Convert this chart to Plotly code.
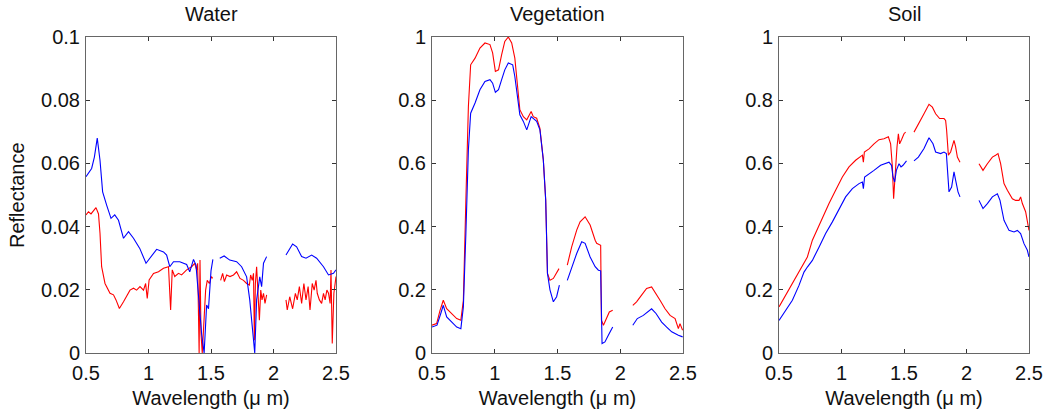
import plotly.graph_objects as go
from plotly.subplots import make_subplots

# ---------------- Data (wavelength in µm, reflectance) ----------------
water_blue_wl = [0.5, 0.545, 0.567, 0.59, 0.612, 0.633, 0.665, 0.70, 0.73, 0.76, 0.80, 0.84, 0.88, 0.93, 0.98,
                 1.01, 1.065, 1.12, 1.145, 1.17, 1.2, 1.25, 1.305, 1.33, 1.36, 1.38, 1.40, 1.425, 1.445, 1.465,
                 1.48, 1.50, 1.515, None,
                 1.57, 1.605, 1.65, 1.705, 1.745, 1.785, 1.81, 1.835, 1.85, 1.865, 1.89, 1.905, 1.92, 1.945, None,
                 2.1, 2.153, 2.185, 2.225, 2.26, 2.305, 2.345, 2.4, 2.44, 2.48, 2.5]
water_blue = [0.0558, 0.0584, 0.062, 0.068, 0.061, 0.051, 0.0468, 0.0426, 0.0437, 0.042, 0.0363, 0.0384, 0.0363,
              0.0331, 0.0284, 0.030, 0.0328, 0.032, 0.031, 0.0273, 0.0289, 0.0289, 0.028, 0.0257, 0.0296, 0.0278,
              0.019, 0.006, 0.0, 0.0152, 0.014, 0.026, 0.0296, None,
              0.030, 0.0307, 0.0294, 0.0289, 0.0273, 0.0241, 0.0168, 0.0062, 0.0, 0.0168, 0.0241, 0.021, 0.0284,
              0.0305, None,
              0.031, 0.0345, 0.0336, 0.0305, 0.030, 0.031, 0.030, 0.0273, 0.0247, 0.0252, 0.0263]

water_red_wl = [0.5, 0.52, 0.54, 0.58, 0.6, 0.612, 0.625, 0.652, 0.692, 0.72, 0.74, 0.767, 0.80, 0.825, 0.852,
                0.88, 0.905, 0.932, 0.96, 0.977, 0.99, 1.005, 1.04, 1.08, 1.12, 1.16, 1.167, 1.177, 1.19, 1.21,
                1.24, 1.265, 1.305, 1.345, 1.37, 1.385, 1.393, 1.405, 1.412, 1.42, 1.43, 1.445, 1.457, 1.47,
                1.487, 1.503, 1.513, None,
                1.577, 1.593, 1.607, 1.625, 1.652, 1.68, 1.705, 1.732, 1.76, 1.785, 1.807, 1.817, 1.83, 1.84,
                1.847, 1.855, 1.865, 1.88, 1.887, 1.898, 1.908, 1.92, 1.932, 1.945, None,
                2.1, 2.11, 2.13, 2.153, 2.175, 2.19, 2.207, 2.225, 2.243, 2.26, 2.277, 2.292, 2.31, 2.325, 2.34,
                2.35, 2.367, 2.385, 2.4, 2.413, 2.427, 2.44, 2.453, 2.46, 2.47, 2.483, 2.5]
water_red = [0.0437, 0.0447, 0.044, 0.046, 0.044, 0.0379, 0.0273, 0.022, 0.0189, 0.0184, 0.0168, 0.0141, 0.0162,
             0.0178, 0.0199, 0.0205, 0.0199, 0.021, 0.0199, 0.022, 0.0173, 0.0231, 0.0252, 0.0257, 0.0268, 0.0273,
             0.021, 0.0136, 0.0263, 0.0242, 0.0252, 0.0247, 0.0263, 0.0273, 0.0284, 0.0263, 0.0284, 0.0, 0.0294,
             0.0062, 0.0, 0.0104, 0.0199, 0.023, 0.022, 0.0242, 0.0236, None,
             0.023, 0.0252, 0.0226, 0.0247, 0.0242, 0.0247, 0.0257, 0.0236, 0.023, 0.022, 0.0215, 0.0247, 0.023,
             0.0252, 0.004, 0.022, 0.0273, 0.0168, 0.0104, 0.0199, 0.0168, 0.0189, 0.0157, 0.0184, None,
             0.0168, 0.0136, 0.0178, 0.014, 0.0189, 0.0168, 0.021, 0.0157, 0.022, 0.0168, 0.021, 0.0136, 0.022,
             0.0199, 0.023, 0.0189, 0.0168, 0.0157, 0.0189, 0.0168, 0.0199, 0.0189, 0.0157, 0.0263, 0.003, 0.0189,
             0.0242]

veg_red_wl = [0.5, 0.537, 0.564, 0.59, 0.617, 0.657, 0.697, 0.73, 0.75, 0.77, 0.79, 0.808, 0.843, 0.882, 0.922,
              0.962, 0.983, 1.005, 1.03, 1.055, 1.08, 1.108, 1.135, 1.16, 1.18, 1.2, 1.228, 1.255, 1.29, 1.307,
              1.334, 1.36, 1.387, 1.406, 1.42, 1.44, 1.467, 1.493, 1.512, None,
              1.578, 1.613, 1.653, 1.68, 1.72, 1.76, 1.8, 1.812, 1.844, 1.85, 1.866, 1.892, 1.913, 1.94, None,
              2.1, 2.13, 2.17, 2.21, 2.25, 2.277, 2.317, 2.357, 2.397, 2.437, 2.463, 2.476, 2.497]
veg_red = [0.088, 0.093, 0.135, 0.167, 0.14, 0.125, 0.109, 0.104, 0.167, 0.484, 0.78, 0.912, 0.933, 0.965, 0.981,
           0.976, 0.95, 0.891, 0.896, 0.944, 0.986, 1.0, 0.981, 0.933, 0.854, 0.77, 0.748, 0.738, 0.764, 0.748,
           0.743, 0.711, 0.611, 0.484, 0.252, 0.23, 0.236, 0.252, 0.267, None,
           0.278, 0.336, 0.389, 0.415, 0.431, 0.405, 0.357, 0.347, 0.341, 0.104, 0.088, 0.109, 0.13, 0.135, None,
           0.151, 0.162, 0.183, 0.204, 0.209, 0.193, 0.167, 0.14, 0.119, 0.109, 0.077, 0.093, 0.072]

veg_blue_wl = [0.5, 0.54, 0.57, 0.59, 0.617, 0.657, 0.697, 0.73, 0.75, 0.77, 0.79, 0.808, 0.843, 0.882, 0.922,
               0.962, 0.983, 1.005, 1.03, 1.055, 1.08, 1.108, 1.143, 1.16, 1.18, 1.2, 1.228, 1.255, 1.29, 1.307,
               1.334, 1.36, 1.387, 1.406, 1.42, 1.44, 1.467, 1.493, 1.515, None,
               1.578, 1.613, 1.653, 1.693, 1.72, 1.76, 1.8, 1.826, 1.844, 1.855, 1.878, 1.905, 1.94, None,
               2.1, 2.136, 2.184, 2.224, 2.25, 2.285, 2.33, 2.37, 2.41, 2.463, 2.497]
veg_blue = [0.082, 0.088, 0.125, 0.151, 0.114, 0.098, 0.082, 0.077, 0.146, 0.378, 0.643, 0.759, 0.791, 0.833,
            0.859, 0.865, 0.854, 0.825, 0.833, 0.865, 0.896, 0.918, 0.912, 0.875, 0.812, 0.754, 0.733, 0.706,
            0.748, 0.743, 0.733, 0.706, 0.611, 0.484, 0.252, 0.2, 0.162, 0.178, 0.215, None,
            0.23, 0.273, 0.315, 0.352, 0.347, 0.304, 0.273, 0.262, 0.26, 0.03, 0.035, 0.056, 0.082, None,
            0.088, 0.109, 0.119, 0.13, 0.14, 0.125, 0.098, 0.082, 0.067, 0.056, 0.051]

soil_red_wl = [0.5, 0.553, 0.607, 0.66, 0.7, 0.727, 0.767, 0.807, 0.847, 0.9, 0.953, 1.007, 1.06, 1.113, 1.167,
               1.175, 1.183, 1.22, 1.26, 1.3, 1.34, 1.375, 1.393, 1.407, 1.417, 1.428, 1.444, 1.455, 1.465, 1.48,
               1.5, 1.513, None,
               1.58, 1.62, 1.66, 1.7, 1.727, 1.753, 1.785, 1.82, 1.833, 1.841, 1.855, 1.873, 1.9, 1.913, 1.927,
               1.948, None,
               2.1, 2.132, 2.167, 2.207, 2.233, 2.252, 2.273, 2.3, 2.327, 2.367, 2.393, 2.42, 2.433, 2.447,
               2.473, 2.487, 2.5]
soil_red = [0.146, 0.182, 0.219, 0.256, 0.283, 0.304, 0.357, 0.393, 0.43, 0.473, 0.515, 0.557, 0.589, 0.61, 0.626,
            0.604, 0.636, 0.646, 0.662, 0.675, 0.678, 0.684, 0.662, 0.589, 0.488, 0.57, 0.652, 0.694, 0.662,
            0.675, 0.694, 0.699, None,
            0.699, 0.726, 0.757, 0.787, 0.778, 0.757, 0.742, 0.742, 0.736, 0.705, 0.626, 0.636, 0.673, 0.652,
            0.62, 0.604, None,
            0.599, 0.578, 0.599, 0.62, 0.626, 0.631, 0.599, 0.536, 0.515, 0.488, 0.483, 0.483, 0.494, 0.473,
            0.447, 0.42, 0.388]

soil_blue_wl = [0.5, 0.553, 0.607, 0.66, 0.7, 0.727, 0.767, 0.82, 0.873, 0.927, 0.98, 1.033, 1.087, 1.14, 1.167,
                1.175, 1.185, 1.22, 1.26, 1.313, 1.353, 1.38, 1.4, 1.412, 1.425, 1.439, 1.46, 1.476, 1.492,
                1.508, 1.52, None,
                1.58, 1.615, 1.66, 1.7, 1.732, 1.753, 1.793, 1.82, 1.839, 1.849, 1.86, 1.881, 1.9, 1.913, 1.932,
                1.948, None,
                2.1, 2.132, 2.167, 2.207, 2.247, 2.268, 2.3, 2.34, 2.38, 2.407, 2.433, 2.46, 2.487, 2.5]
soil_blue = [0.103, 0.135, 0.167, 0.214, 0.256, 0.272, 0.293, 0.335, 0.378, 0.415, 0.457, 0.494, 0.52, 0.536,
             0.541, 0.52, 0.557, 0.568, 0.578, 0.594, 0.599, 0.604, 0.594, 0.557, 0.541, 0.578, 0.599, 0.589,
             0.594, 0.604, 0.608, None,
             0.608, 0.62, 0.647, 0.681, 0.662, 0.636, 0.631, 0.636, 0.631, 0.557, 0.51, 0.525, 0.573, 0.547,
             0.51, 0.494, None,
             0.483, 0.457, 0.473, 0.494, 0.504, 0.483, 0.42, 0.388, 0.383, 0.388, 0.378, 0.346, 0.325, 0.304]

panel_titles = ["Water", "Vegetation", "Soil"]
x_ticks = [0.5, 1, 1.5, 2, 2.5]
x_ticklabels = ["0.5", "1", "1.5", "2", "2.5"]
water_yticks = [0, 0.02, 0.04, 0.06, 0.08, 0.1]
water_yticklabels = ["0", "0.02", "0.04", "0.06", "0.08", "0.1"]
other_yticks = [0, 0.2, 0.4, 0.6, 0.8, 1]
other_yticklabels = ["0", "0.2", "0.4", "0.6", "0.8", "1"]

# ---------------- Figure ----------------
W, H = 1046, 414
ML, MR, MT, MB = 86, 17, 37, 61
PW, PH = W - ML - MR, H - MT - MB
FONT = "Liberation Sans, Arial, sans-serif"
FS = 20
AX = "#666666"
TXT = "#111111"
BLUE = "#0000ff"
RED = "#ff0000"

fig = make_subplots(rows=1, cols=3)

panels = [
    (water_blue_wl, water_blue, water_red_wl, water_red),
    (veg_blue_wl, veg_blue, veg_red_wl, veg_red),
    (soil_blue_wl, soil_blue, soil_red_wl, soil_red),
]
for i, (bx, by, rx, ry) in enumerate(panels, start=1):
    fig.add_trace(go.Scatter(x=rx, y=ry, mode="lines", line=dict(color=RED, width=1.1),
                             connectgaps=False, showlegend=False, hoverinfo="skip"), row=1, col=i)
    fig.add_trace(go.Scatter(x=bx, y=by, mode="lines", line=dict(color=BLUE, width=1.1),
                             connectgaps=False, showlegend=False, hoverinfo="skip"), row=1, col=i)

px_x = [(86, 336), (432, 683), (779, 1029)]

def fx(px):
    return (px - ML) / PW

def fy(py):
    return (H - MB - py) / PH

common_axis = dict(showgrid=False, zeroline=False, showline=True, linecolor=AX, linewidth=1,
                   mirror="ticks", ticks="inside", ticklen=4, tickcolor="#333333", tickwidth=1,
                   automargin=False, tickfont=dict(family=FONT, size=FS, color=TXT))

for i in range(3):
    xa = "xaxis" if i == 0 else f"xaxis{i+1}"
    ya = "yaxis" if i == 0 else f"yaxis{i+1}"
    fig.layout[xa].update(domain=[fx(px_x[i][0]), fx(px_x[i][1])], range=[0.5, 2.5],
                          tickvals=x_ticks, ticktext=x_ticklabels, ticklabelstandoff=2,
                          title=dict(text="Wavelength (\u03bc m)", font=dict(family=FONT, size=FS, color=TXT),
                                     standoff=7),
                          **common_axis)
    if i == 0:
        yt, ytl, yr = water_yticks, water_yticklabels, [0, 0.1]
    else:
        yt, ytl, yr = other_yticks, other_yticklabels, [0, 1]
    fig.layout[ya].update(domain=[0, 1], range=yr, tickvals=yt, ticktext=ytl, ticklabelstandoff=1,
                          **common_axis)
    fig.add_annotation(text=panel_titles[i], x=fx((px_x[i][0] + px_x[i][1]) / 2), y=fy(14),
                       xref="paper", yref="paper", showarrow=False, xanchor="center", yanchor="middle",
                       font=dict(family=FONT, size=FS, color=TXT))

fig.add_annotation(text="Reflectance", x=fx(17), y=fy(195), xref="paper", yref="paper",
                   showarrow=False, textangle=-90, xanchor="center", yanchor="middle",
                   font=dict(family=FONT, size=FS, color=TXT))

fig.update_layout(width=W, height=H, margin=dict(l=ML, r=MR, t=MT, b=MB, autoexpand=False),
                  plot_bgcolor="white", paper_bgcolor="white", showlegend=False)

fig.write_html("out.html", config={"displayModeBar": False},
               post_script="document.body.style.margin='0';document.body.style.overflow='hidden';")
